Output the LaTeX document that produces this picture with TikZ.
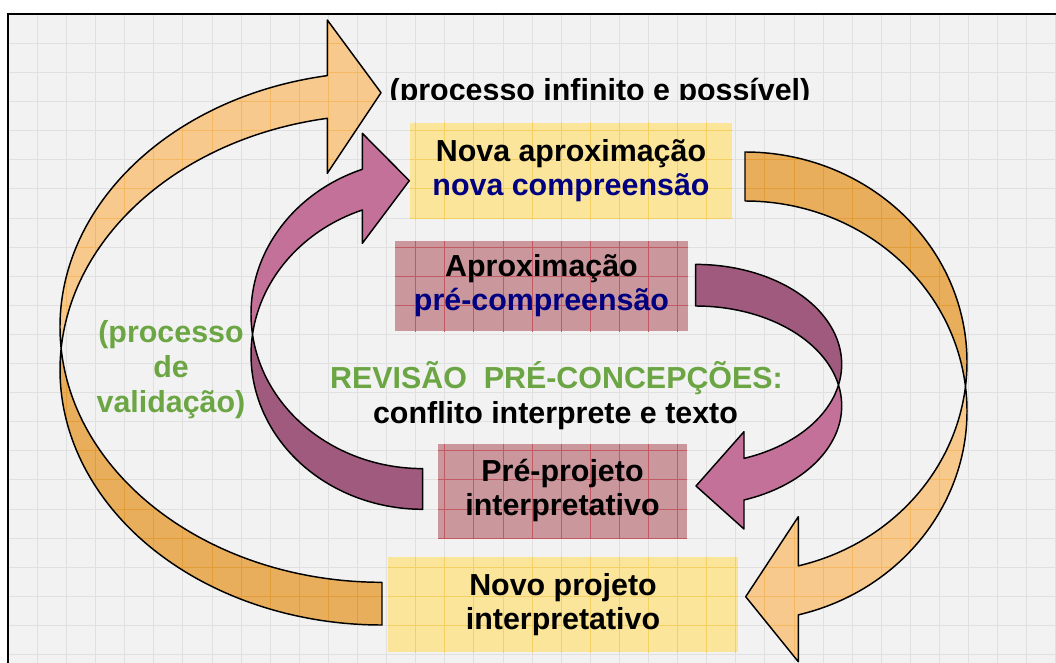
\documentclass[tikz,border=0pt]{standalone}
\usepackage{fontspec}
\setmainfont{Liberation Sans}
\definecolor{bgc}{HTML}{F2F2F2}
\definecolor{gridc}{HTML}{E0E0E0}
\definecolor{yfill}{HTML}{FAE59B}
\definecolor{ygrid}{HTML}{F4D064}
\definecolor{pfill}{HTML}{C9979C}
\definecolor{pgrid}{HTML}{C25A63}
\definecolor{ofront}{HTML}{F8C98C}
\definecolor{oback}{HTML}{E8AE5C}
\definecolor{ogridf}{HTML}{F4B762}
\definecolor{ogridb}{HTML}{E29C38}
\definecolor{pkfront}{HTML}{C4719A}
\definecolor{pkback}{HTML}{A05A7E}
\definecolor{navy}{HTML}{000080}
\definecolor{grn}{HTML}{6CA644}
\newcommand{\bggridlines}[1]{%
  \foreach \gi in {0,...,36}{\draw[#1] ({8.2+29.1*\gi},14.2) -- ({8.2+29.1*\gi},663);}%
  \foreach \gj in {0,...,22}{\draw[#1] (8.2,{14.2+29.1*\gj}) -- (1056,{14.2+29.1*\gj});}%
}
% left outer orange arrow
\newcommand{\pAf}{({382+322*cos(184.8)},{369.8+255.2*sin(184.8)}) arc[start angle=184.8,end angle=260.22,x radius=322,y radius=255.2] -- (327.3,173.3) -- (381,92.7) -- (327.3,20) -- ({382+322*cos(260.22)},{327.1+255.2*sin(260.22)}) arc[start angle=260.22,end angle=175.2,x radius=322,y radius=255.2] -- cycle}
\newcommand{\pAb}{({382+322*cos(184.8)},{369.8+255.2*sin(184.8)}) arc[start angle=184.8,end angle=90,x radius=322,y radius=255.2] -- (382,582.3) arc[start angle=90,end angle=175.2,x radius=322,y radius=255.2] -- cycle}
% inner left pink arrow
\newcommand{\pCf}{({422.7+171.7*cos(187.56)},{354.7+154.6*sin(187.56)}) arc[start angle=187.56,end angle=249.4,x radius=171.7,y radius=154.6] -- (362.3,243.3) -- (409.3,180.7) -- (362.3,133.3) -- ({422.7+171.7*cos(249.4)},{314+154.6*sin(249.4)}) arc[start angle=249.4,end angle=172.44,x radius=171.7,y radius=154.6] -- cycle}
\newcommand{\pCb}{({422.7+171.7*cos(187.56)},{354.7+154.6*sin(187.56)}) arc[start angle=187.56,end angle=90,x radius=171.7,y radius=154.6] -- (422.7,468.6) arc[start angle=90,end angle=172.44,x radius=171.7,y radius=154.6] -- cycle}
% right outer orange arrow
\newcommand{\pBb}{(745,152) arc[start angle=270,end angle=366.7,x radius=222,y radius=210] arc[start angle=353.3,end angle=270,x radius=222,y radius=210] -- cycle}
\newcommand{\pBf}{({745+222*cos(6.7)},{362+210*sin(6.7)}) arc[start angle=6.7,end angle=76.11,x radius=222,y radius=210] -- (798.3,516.7) -- (745.7,596.7) -- (798.3,661.7) -- ({745+222*cos(76.11)},{411+210*sin(76.11)}) arc[start angle=76.11,end angle=-6.7,x radius=222,y radius=210] -- cycle}
% inner right pink arrow
\newcommand{\pDb}{(695.7,264.4) arc[start angle=270,end angle=372.03,x radius=146,y radius=99.8] arc[start angle=347.97,end angle=270,x radius=146,y radius=99.8] -- cycle}
\newcommand{\pDf}{({695.7+146*cos(12.03)},{364.2+99.8*sin(12.03)}) arc[start angle=12.03,end angle=70.68,x radius=146,y radius=99.8] -- (744,431.7) -- (696,486) -- (744,529) -- ({695.7+146*cos(70.68)},{405.8+99.8*sin(70.68)}) arc[start angle=70.68,end angle=-12.03,x radius=146,y radius=99.8] -- cycle}
\tikzset{
  txt/.style={inner sep=0pt, font={\fontsize{22.8}{25.5}\selectfont\bfseries}},
  outline/.style={draw=black, line width=1.1pt, line join=round},
  gl/.style={draw=gridc, line width=0.6pt},
}
\begin{document}
\begin{tikzpicture}[x=0.75pt,y=-0.75pt]
\useasboundingbox (0,0) rectangle (1056,663);
\clip (0,0) rectangle (1056,663);
\fill[white] (0,0) rectangle (1056,663);
\fill[bgc] (8.2,14.2) rectangle (1056,663);
\bggridlines{gl}
\draw[line width=1.5pt] (8.2,663) -- (8.2,14.2) -- (1056,14.2);
% boxes
\fill[yfill] (410,123) rectangle (732,219);
\begin{scope}\clip (410,123) rectangle (732,219); \bggridlines{draw=ygrid,line width=0.6pt}\end{scope}
\fill[yfill] (388,557) rectangle (738,652);
\begin{scope}\clip (388,557) rectangle (738,652); \bggridlines{draw=ygrid,line width=0.6pt}\end{scope}
\fill[pfill] (395,241) rectangle (688,331);
\begin{scope}\clip (395,241) rectangle (688,331); \bggridlines{draw=pgrid,line width=0.6pt}\end{scope}
\fill[pfill] (438,444) rectangle (687,538);
\begin{scope}\clip (438,444) rectangle (687,538); \bggridlines{draw=pgrid,line width=0.6pt}\end{scope}
% orange arrows
\fill[oback] \pAb;
\begin{scope}\clip \pAb; \bggridlines{draw=ogridb,line width=0.6pt}\end{scope}
\fill[ofront] \pAf;
\begin{scope}\clip \pAf; \bggridlines{draw=ogridf,line width=0.6pt}\end{scope}
\draw[outline] \pAb;
\draw[outline] \pAf;
\fill[oback] \pBb;
\begin{scope}\clip \pBb; \bggridlines{draw=ogridb,line width=0.6pt}\end{scope}
\fill[ofront] \pBf;
\begin{scope}\clip \pBf; \bggridlines{draw=ogridf,line width=0.6pt}\end{scope}
\draw[outline] \pBb;
\draw[outline] \pBf;
% pink arrows
\fill[pkback] \pCb;
\fill[pkfront] \pCf;
\draw[outline] \pCb;
\draw[outline] \pCf;
\fill[pkback] \pDb;
\fill[pkfront] \pDf;
\draw[outline] \pDb;
\draw[outline] \pDf;
% texts
\begin{scope}
\clip (0,0) rectangle (1056,99.3);
\node[txt, anchor=base] (inf) at (600,101) {(processo infinito e possível)};
\end{scope}
\node[txt, align=center] (nova) at (571,171) {Nova aproximação\\\textcolor{navy}{nova compreensão}};
\node[txt, align=center] (aprox) at (541.5,286) {Aproximação\\\textcolor{navy}{pré-compreensão}};
\node[txt, anchor=base, text=grn] (rev) at (556.5,388) {REVISÃO\ \ PRÉ-CONCEPÇÕES:};
\node[txt, anchor=base] (confl) at (555.5,423) {conflito interprete e texto};
\node[txt, align=center] (preproj) at (562.5,491) {Pré-projeto\\interpretativo};
\node[txt, align=center] (novoproj) at (563,604.5) {Novo projeto\\interpretativo};
\node[txt, align=center, text=grn, font={\fontsize{22.8}{26.25}\selectfont\bfseries}] (valid) at (171,370) {(processo\\de\\validação)};
\end{tikzpicture}
\end{document}
